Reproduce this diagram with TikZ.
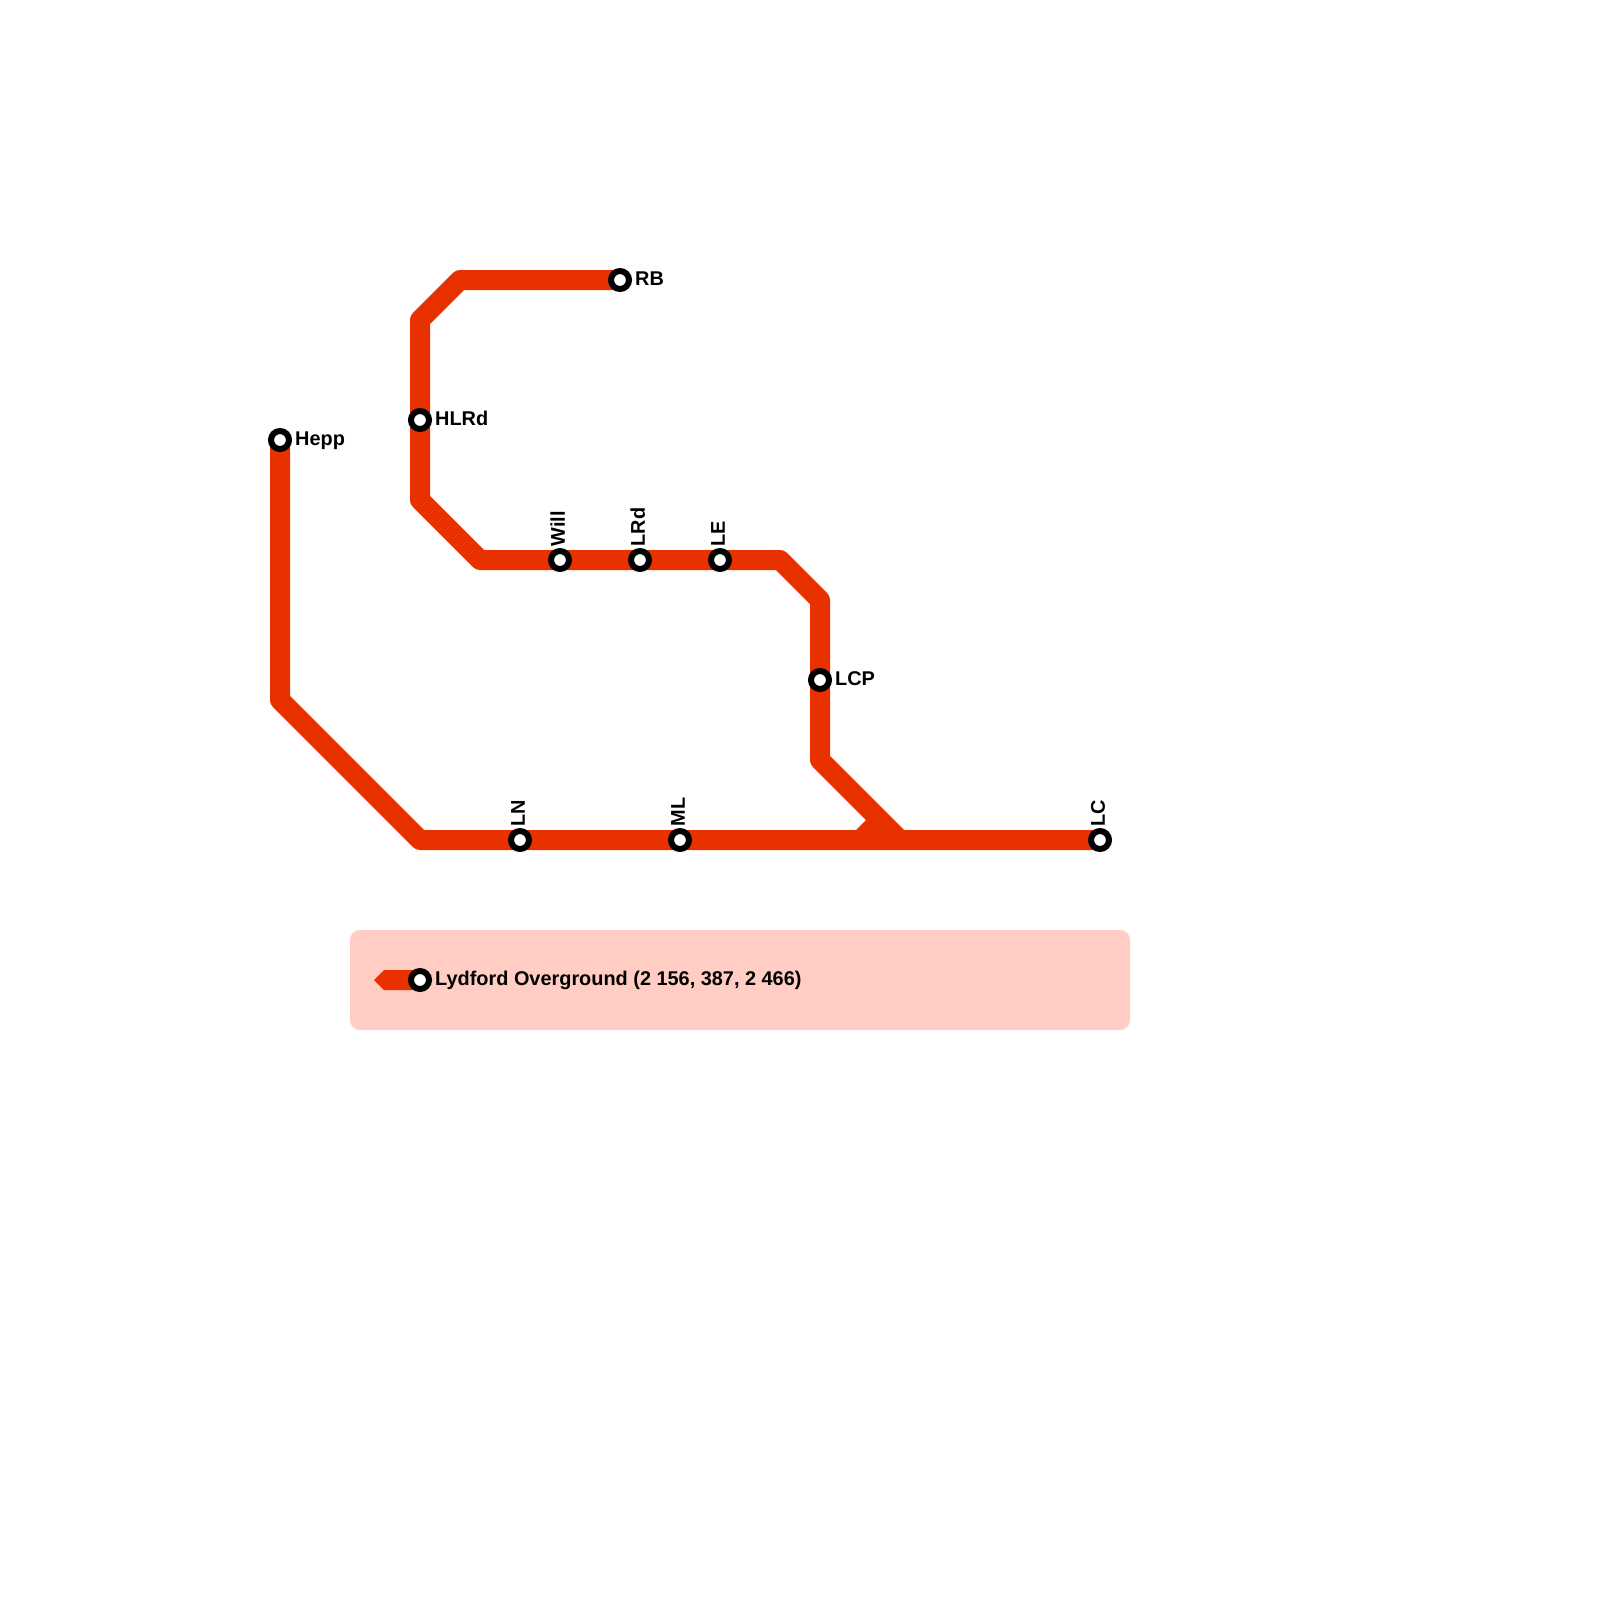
\documentclass[tikz,border=0pt]{standalone}
\usepackage{fontspec}
\setmainfont{Liberation Sans}
\usetikzlibrary{positioning, backgrounds}
\definecolor{linered}{HTML}{E93100}
\definecolor{legendpink}{HTML}{FFCDC3}

\begin{document}
\begin{tikzpicture}[
  x=0.2cm, y=-0.2cm,
  node distance=0.55mm,
  station/.style={circle, draw=black, fill=white, line width=0.6mm,
    minimum size=1.8mm, inner sep=0pt, outer sep=0pt},
  stationlabel/.style={inner sep=0pt, yshift=0.43mm,
    font=\fontsize{5.66}{6.5}\selectfont\bfseries},
  sidelabel/.style={stationlabel, anchor=mid west},
  uplabel/.style={rotate=90, stationlabel, anchor=mid west},
  metroline/.style={draw=linered, line width=2mm, line join=round},
]
  \useasboundingbox (0,0) rectangle (80,80);

  % Stations
  \node[station] (Hepp) at (14,22) {};
  \node[station] (HLRd) at (21,21) {};
  \node[station] (RB) at (31,14) {};
  \node[station] (Will) at (28,28) {};
  \node[station] (LRd) at (32,28) {};
  \node[station] (LE) at (36,28) {};
  \node[station] (LCP) at (41,34) {};
  \node[station] (LN) at (26,42) {};
  \node[station] (ML) at (34,42) {};
  \node[station] (LC) at (55,42) {};
  \node[station] (Key) at (21,49) {};

  % Station labels
  \node[right=of Hepp, sidelabel] (HeppL) {Hepp};
  \node[right=of HLRd, sidelabel] (HLRdL) {HLRd};
  \node[right=of RB, sidelabel] (RBL) {RB};
  \node[right=of LCP, sidelabel] (LCPL) {LCP};
  \node[above=0.4mm of Will, uplabel] (WillL) {Will};
  \node[above=0.4mm of LRd, uplabel] (LRdL) {LRd};
  \node[above=0.4mm of LE, uplabel] (LEL) {LE};
  \node[above=0.4mm of LN, uplabel] (LNL) {LN};
  \node[above=0.4mm of ML, uplabel] (MLL) {ML};
  \node[above=0.4mm of LC, uplabel] (LCL) {LC};
  \node[right=of Key, sidelabel] (KeyL) {Lydford Overground (2 156, 387, 2 466)};

  \begin{scope}[on background layer]
    % Legend panel
    \fill[legendpink, rounded corners=1mm] (17.5,46.5) rectangle (56.5,51.5);
    \fill[linered] (Key.center) -- (21,48.5) -- (19.2,48.5) -- (18.7,49)
      -- (19.2,49.5) -- (21,49.5) -- cycle;

    % Lines
    \draw[metroline] (Hepp.center) -- (14,35) -- (21,42) -- (LN.center)
      -- (ML.center) -- (LC.center);
    \draw[metroline] (RB.center) -- (23,14) -- (21,16) -- (HLRd.center)
      -- (21,25) -- (24,28) -- (Will.center) -- (LRd.center) -- (LE.center)
      -- (39,28) -- (41,30) -- (LCP.center) -- (41,38) -- (45,42);
    \fill[linered] (43.3,41) -- (42.8,41.5) -- (43,42) -- (45,42) -- cycle;
  \end{scope}
\end{tikzpicture}
\end{document}
